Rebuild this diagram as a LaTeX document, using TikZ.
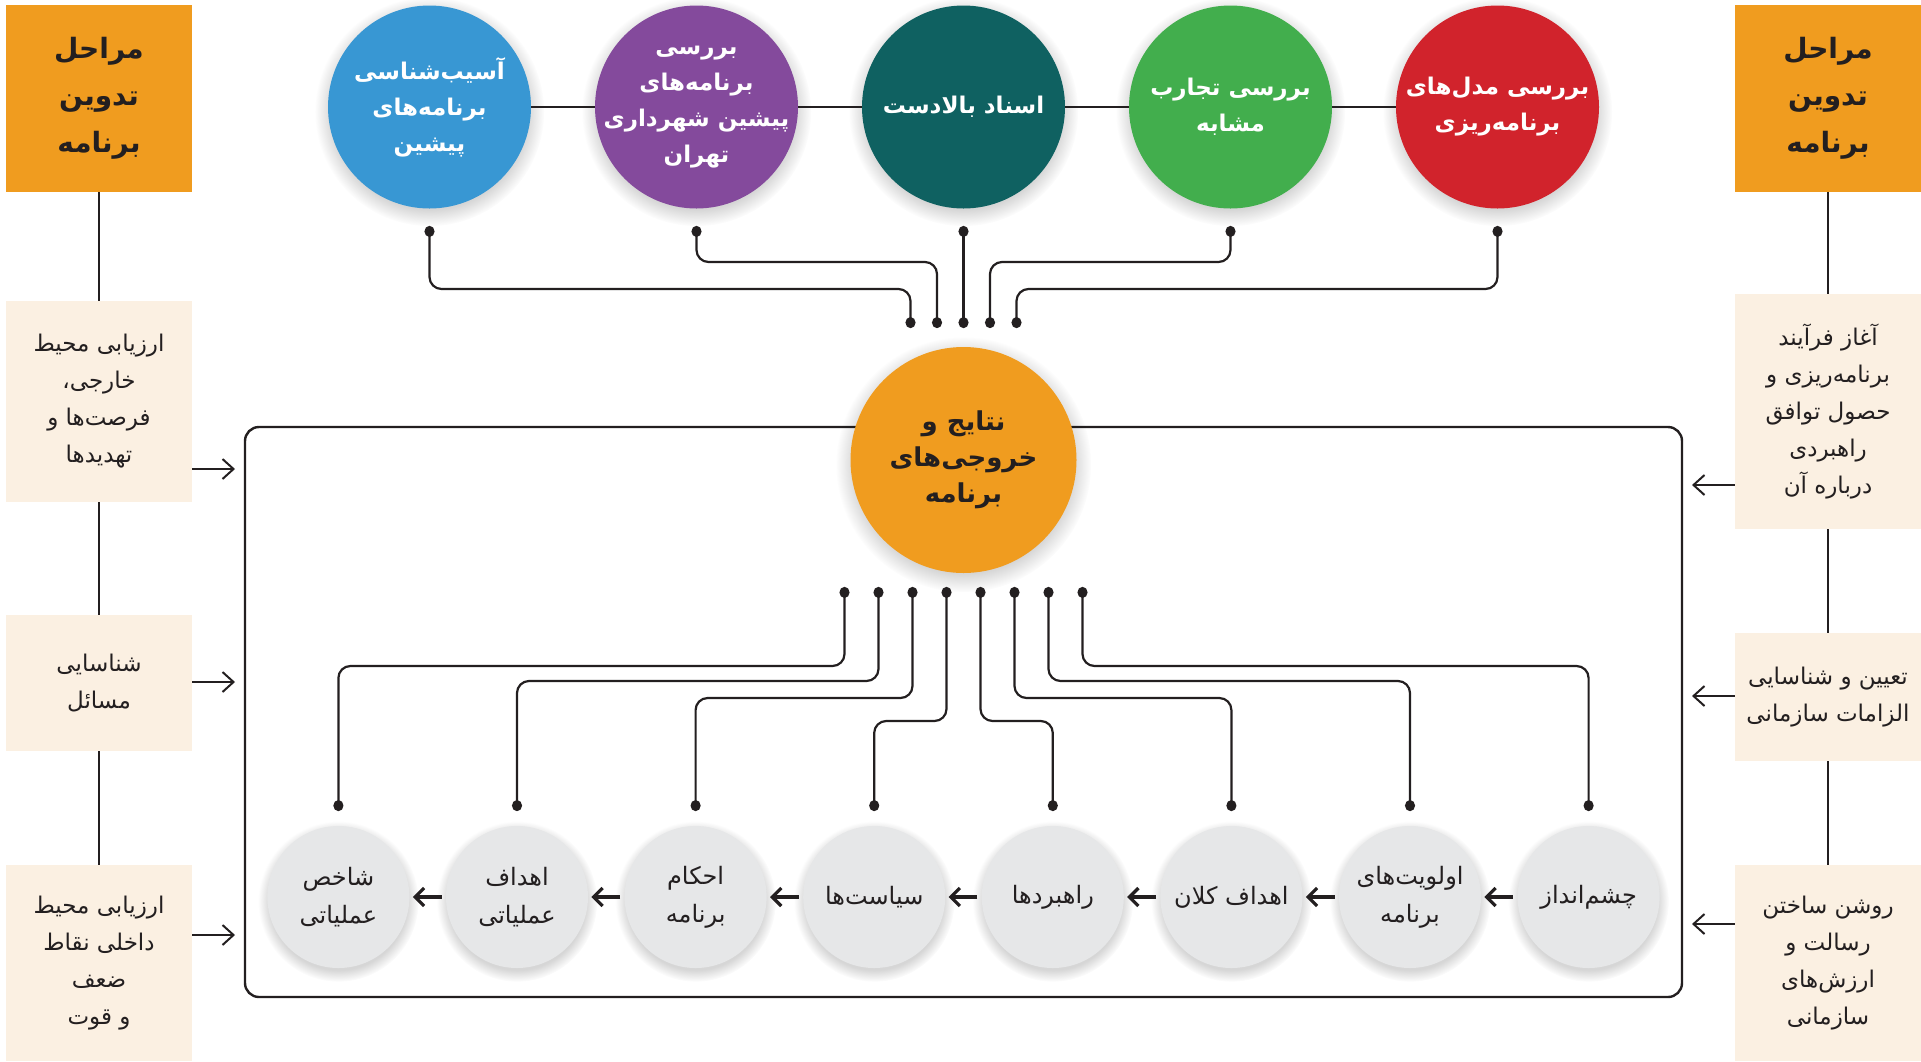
\documentclass[tikz,border=0pt]{standalone}
\usepackage{fontspec}
\usepackage{tikz}
\usetikzlibrary{positioning,arrows.meta,shadows}
\newfontfamily\fafont[Script=Arabic]{DejaVu Sans}
\TeXXeTstate=1
\newcommand{\fatxt}[1]{\beginR #1\endR}
\definecolor{stageorange}{HTML}{F09C1F}
\definecolor{cream}{HTML}{FBF0E2}
\definecolor{lowgray}{HTML}{E6E7E8}
\definecolor{ink}{HTML}{231F20}
\definecolor{cblue}{HTML}{3897D3}
\definecolor{cpurple}{HTML}{844A9C}
\definecolor{cteal}{HTML}{0F6161}
\definecolor{cgreen}{HTML}{42AE4D}
\definecolor{cred}{HTML}{D1232C}
\tikzset{dotend/.tip={Circle[length=5.5pt,width=5pt]}}

\begin{document}
\begin{tikzpicture}[x=0.5pt,y=-0.5pt,on grid,node distance=133.5pt]
        \tikzstyle{halo}=[circular drop shadow={shadow xshift=0pt,shadow yshift=-2pt,shadow scale=1.13,opacity=0.16,fill=black}]
        \tikzstyle{topc}=[circle,halo,inner sep=-8pt,minimum size=101.5pt,text=white,align=center,font=\fafont\bfseries\fontsize{11.5}{18}\selectfont]
        \tikzstyle{midc}=[circle,halo,inner sep=-4pt,minimum size=113pt,fill=stageorange,text=ink,align=center,font=\fafont\bfseries\fontsize{13}{18}\selectfont]
        \tikzstyle{lowc}=[circle,halo,inner sep=-4pt,minimum size=71pt,fill=lowgray,text=ink,align=center,font=\fafont\fontsize{12}{19}\selectfont]
        \tikzstyle{stagebox}=[rectangle,inner sep=0pt,minimum width=93pt,minimum height=93.5pt,fill=stageorange,text=ink,align=center,font=\fafont\bfseries\fontsize{14}{23.5}\selectfont]
        \tikzstyle{sidebox}=[rectangle,inner sep=0pt,minimum width=93pt,fill=cream,text=ink,align=center,font=\fafont\fontsize{11.5}{18.5}\selectfont]
        \tikzstyle{frame}=[rectangle,draw=ink,line width=1.2pt,rounded corners=7pt,minimum width=718.5pt,minimum height=285pt]
        \tikzstyle{wire}=[draw=ink,line width=1.1pt,rounded corners=6pt,dotend-dotend]
        \tikzstyle{sideline}=[draw=ink,line width=1.2pt]
        \tikzstyle{sidearrow}=[draw=ink,line width=1pt,-{Straight Barb[length=5.5pt,width=10pt]}]
        \tikzstyle{steparrow}=[draw=ink,line width=1.6pt,-{Straight Barb[length=4.5pt,width=9pt]},shorten <=2pt,shorten >=1.5pt]
        \useasboundingbox (0,0) rectangle (1921,1061);
        % frame behind everything
        \node[frame] (frame) at (963.5,712) {};
        % top row of sources
        \node[topc,fill=cteal] (asnad) at (963.5,107) {\fatxt{اسناد بالادست}};
        \node[topc,fill=cpurple] (tehran) [left=of asnad] {\fatxt{بررسی}\\\fatxt{برنامه‌های}\\\fatxt{پیشین شهرداری}\\\fatxt{تهران}};
        \node[topc,fill=cblue] (asib) [left=of tehran] {\fatxt{آسیب‌شناسی}\\\fatxt{برنامه‌های}\\\fatxt{پیشین}};
        \node[topc,fill=cgreen] (tajarob) [right=of asnad] {\fatxt{بررسی تجارب}\\\fatxt{مشابه}};
        \node[topc,fill=cred] (modelha) [right=of tajarob] {\fatxt{بررسی مدل‌های}\\\fatxt{برنامه‌ریزی}};
        \path[sideline] (asib) edge (tehran) (tehran) edge (asnad) (asnad) edge (tajarob) (tajarob) edge (modelha);
        % center
        \node[midc] (natayej) [below=176.5pt of asnad] {\fatxt{نتایج و}\\\fatxt{خروجی‌های}\\\fatxt{برنامه}};
        % bottom row
        \node[lowc] (rahbord) at (1052.8,897) {\fatxt{راهبردها}};
        \node[lowc] (siasat) [left=89.3pt of rahbord] {\fatxt{سیاست‌ها}};
        \node[lowc] (ahkam) [left=89.3pt of siasat] {\fatxt{احکام}\\\fatxt{برنامه}};
        \node[lowc] (ahdafam) [left=89.3pt of ahkam] {\fatxt{اهداف}\\\fatxt{عملیاتی}};
        \node[lowc] (shakhes) [left=89.3pt of ahdafam] {\fatxt{شاخص}\\\fatxt{عملیاتی}};
        \node[lowc] (kalan) [right=89.3pt of rahbord] {\fatxt{اهداف کلان}};
        \node[lowc] (olaviat) [right=89.3pt of kalan] {\fatxt{اولویت‌های}\\\fatxt{برنامه}};
        \node[lowc] (cheshm) [right=89.3pt of olaviat] {\fatxt{چشم‌انداز}};
        \path[steparrow] (cheshm) edge (olaviat) (olaviat) edge (kalan) (kalan) edge (rahbord) (rahbord) edge (siasat)
            (siasat) edge (ahkam) (ahkam) edge (ahdafam) (ahdafam) edge (shakhes);
        % side columns
        \node[stagebox] (lstage) at (99,98.5) {\fatxt{مراحل}\\\fatxt{تدوین}\\\fatxt{برنامه}};
        \node[sidebox,minimum height=100.5pt] (lbox1) [below=151.5pt of lstage] {\fatxt{ارزیابی محیط}\\\fatxt{خارجی،}\\\fatxt{فرصت‌ها و}\\\fatxt{تهدیدها}};
        \node[sidebox,minimum height=68pt] (lbox2) [below=140.75pt of lbox1] {\fatxt{شناسایی}\\\fatxt{مسائل}};
        \node[sidebox,minimum height=98pt] (lbox3) [below=140pt of lbox2] {\fatxt{ارزیابی محیط}\\\fatxt{داخلی نقاط}\\\fatxt{ضعف}\\\fatxt{و قوت}};
        \node[stagebox] (rstage) at (1828,98.5) {\fatxt{مراحل}\\\fatxt{تدوین}\\\fatxt{برنامه}};
        \node[sidebox,minimum height=117.5pt] (rbox1) [below=156.5pt of rstage] {\fatxt{آغاز فرآیند}\\\fatxt{برنامه‌ریزی و}\\\fatxt{حصول توافق}\\\fatxt{راهبردی}\\\fatxt{درباره آن}};
        \node[sidebox,minimum height=64pt] (rbox2) [below=142.75pt of rbox1] {\fatxt{تعیین و شناسایی}\\\fatxt{الزامات سازمانی}};
        \node[sidebox,minimum height=98pt] (rbox3) [below=133pt of rbox2] {\fatxt{روشن ساختن}\\\fatxt{رسالت و}\\\fatxt{ارزش‌های}\\\fatxt{سازمانی}};
        \path[sideline] (lstage) edge (lbox1) (lbox1) edge (lbox2) (lbox2) edge (lbox3)
            (rstage) edge (rbox1) (rbox1) edge (rbox2) (rbox2) edge (rbox3);
        \coordinate (la1) at (235,469);
        \coordinate (la2) at (235,682);
        \coordinate (la3) at (235,935);
        \coordinate (ra1) at (1692,485);
        \coordinate (ra2) at (1692,696);
        \coordinate (ra3) at (1692,924);
        \draw[sidearrow] (lbox1.east |- la1) -- (la1);
        \draw[sidearrow] (lbox2.east |- la2) -- (la2);
        \draw[sidearrow] (lbox3.east |- la3) -- (la3);
        \draw[sidearrow] (rbox1.west |- ra1) -- (ra1);
        \draw[sidearrow] (rbox2.west |- ra2) -- (ra2);
        \draw[sidearrow] (rbox3.west |- ra3) -- (ra3);
        % wires into the center
        \coordinate (lvT1) at (0,262);
        \coordinate (lvT2) at (0,289);
        \draw[wire,shorten <=9.25pt,shorten >=8.5pt] ([xshift=-26.5pt]natayej.north) |- (lvT2 -| asib) -- (asib.south);
        \draw[wire,shorten <=9.25pt,shorten >=8.5pt] ([xshift=-13.25pt]natayej.north) |- (lvT1 -| tehran) -- (tehran.south);
        \draw[wire,shorten <=9.25pt,shorten >=8.5pt] (natayej.north) -- (asnad.south);
        \draw[wire,shorten <=9.25pt,shorten >=8.5pt] ([xshift=13.25pt]natayej.north) |- (lvT1 -| tajarob) -- (tajarob.south);
        \draw[wire,shorten <=9.25pt,shorten >=8.5pt] ([xshift=26.5pt]natayej.north) |- (lvT2 -| modelha) -- (modelha.south);
        % wires out of the center
        \coordinate (lvA) at (0,666);
        \coordinate (lvB) at (0,681);
        \coordinate (lvC) at (0,698);
        \coordinate (lvD) at (0,721);
        \draw[wire,shorten <=6.75pt,shorten >=7.25pt] ([xshift=-59.5pt]natayej.south) |- (lvA -| shakhes) -- (shakhes.north);
        \draw[wire,shorten <=6.75pt,shorten >=7.25pt] ([xshift=-42.5pt]natayej.south) |- (lvB -| ahdafam) -- (ahdafam.north);
        \draw[wire,shorten <=6.75pt,shorten >=7.25pt] ([xshift=-25.5pt]natayej.south) |- (lvC -| ahkam) -- (ahkam.north);
        \draw[wire,shorten <=6.75pt,shorten >=7.25pt] ([xshift=-8.5pt]natayej.south) |- (lvD -| siasat) -- (siasat.north);
        \draw[wire,shorten <=6.75pt,shorten >=7.25pt] ([xshift=8.5pt]natayej.south) |- (lvD -| rahbord) -- (rahbord.north);
        \draw[wire,shorten <=6.75pt,shorten >=7.25pt] ([xshift=25.5pt]natayej.south) |- (lvC -| kalan) -- (kalan.north);
        \draw[wire,shorten <=6.75pt,shorten >=7.25pt] ([xshift=42.5pt]natayej.south) |- (lvB -| olaviat) -- (olaviat.north);
        \draw[wire,shorten <=6.75pt,shorten >=7.25pt] ([xshift=59.5pt]natayej.south) |- (lvA -| cheshm) -- (cheshm.north);
\end{tikzpicture}
\end{document}
